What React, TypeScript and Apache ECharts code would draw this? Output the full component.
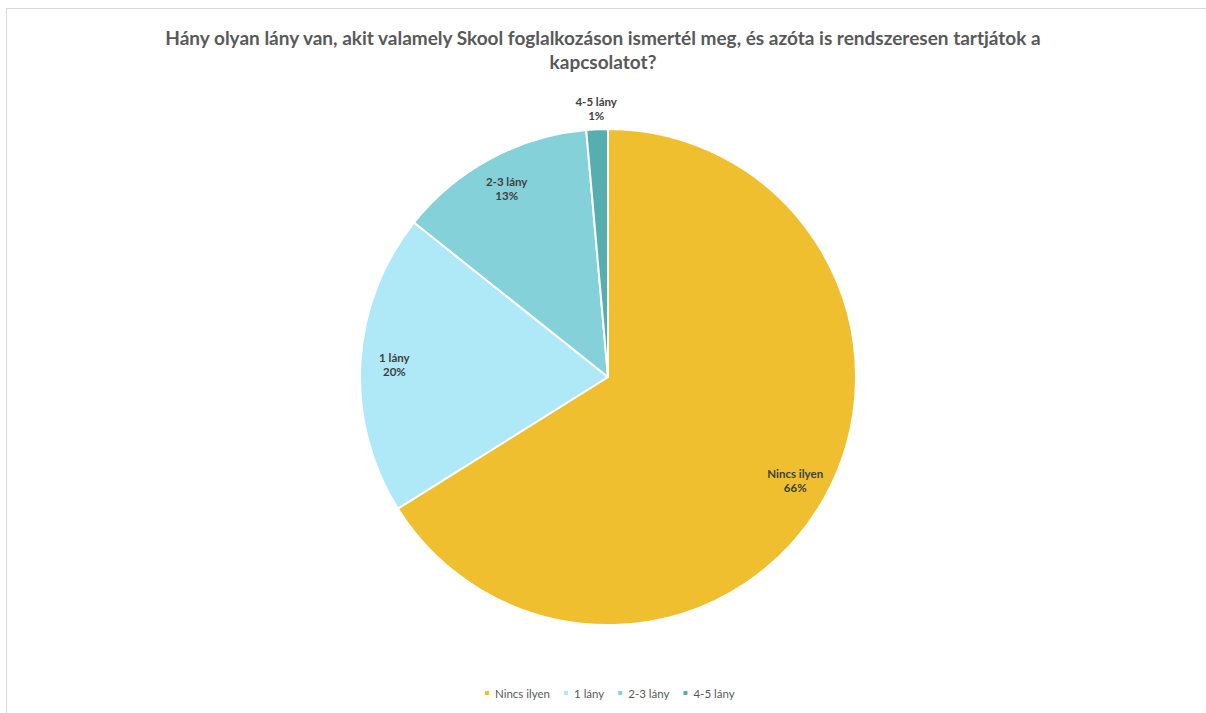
import React, { useEffect, useRef } from "react";
import * as echarts from "echarts";

const titleLines = [
  "Hány olyan lány van, akit valamely Skool foglalkozáson ismertél meg, és azóta is rendszeresen tartjátok a",
  "kapcsolatot?",
];
const categories = ["Nincs ilyen", "1 lány", "2-3 lány", "4-5 lány"];
const values = [66.1, 19.6, 12.9, 1.4];
const colors = ["#EFBF2F", "#AFE8F7", "#85D1DA", "#57AEAE"];

export default function App() {
  const ref = useRef<HTMLDivElement>(null);
  useEffect(() => {
    const chart = echarts.init(ref.current!, null, { renderer: "svg" });
    const font = "Lato, 'Open Sans', sans-serif";
    const mainData = categories.map((name, i) => ({
      name,
      value: values[i],
      itemStyle: { color: colors[i] },
    }));
    const labelStyle = {
      color: "#404040",
      fontSize: 11.5,
      fontWeight: "bold" as const,
      fontFamily: font,
      lineHeight: 14,
      formatter: "{b}\n{d}%",
    };
    const overlayBase = {
      type: "pie" as const,
      center: [608, 377],
      silent: true,
      percentPrecision: 0,
      itemStyle: { color: "rgba(0,0,0,0)", borderWidth: 0 },
      labelLine: { show: false },
      emphasis: { disabled: true },
    };
    chart.setOption({
      animation: false,
      backgroundColor: "#ffffff",
      title: {
        text: titleLines.join("\n"),
        left: "center",
        top: 20,
        textStyle: {
          color: "#595959",
          fontSize: 19,
          fontWeight: "bold",
          fontFamily: font,
          lineHeight: 24,
        },
      },
      legend: {
        data: categories,
        bottom: 9,
        left: 478,
        icon: "rect",
        itemWidth: 6,
        itemHeight: 6,
        itemGap: 12,
        textStyle: { color: "#595959", fontSize: 11.5, fontFamily: font },
      },
      graphic: [
        {
          type: "rect",
          shape: { x: 6.5, y: 8.5, width: 1400, height: 900 },
          style: { fill: "none", stroke: "#d9d9d9", lineWidth: 1 },
          silent: true,
        },
      ],
      series: [
        {
          type: "pie",
          center: [608, 377],
          radius: [0, 248],
          startAngle: 90,
          data: mainData,
          label: { show: false },
          labelLine: { show: false },
          itemStyle: { borderColor: "#ffffff", borderWidth: 2 },
          emphasis: { disabled: true },
        },
        {
          ...overlayBase,
          radius: [172, 250],
          data: categories.map((name, i) => ({
            name,
            value: values[i],
            label: { show: i < 3 },
          })),
          label: { ...labelStyle, position: "inside" },
        },
        {
          ...overlayBase,
          radius: [250, 282],
          data: categories.map((name, i) => ({
            name,
            value: values[i],
            label: { show: i === 3 },
          })),
          label: { ...labelStyle, position: "inside" },
        },
      ],
    });
    return () => chart.dispose();
  }, []);
  return (
    <div
      ref={ref}
      style={{ position: "fixed", left: 0, top: 0, width: 1206, height: 713 }}
    />
  );
}
